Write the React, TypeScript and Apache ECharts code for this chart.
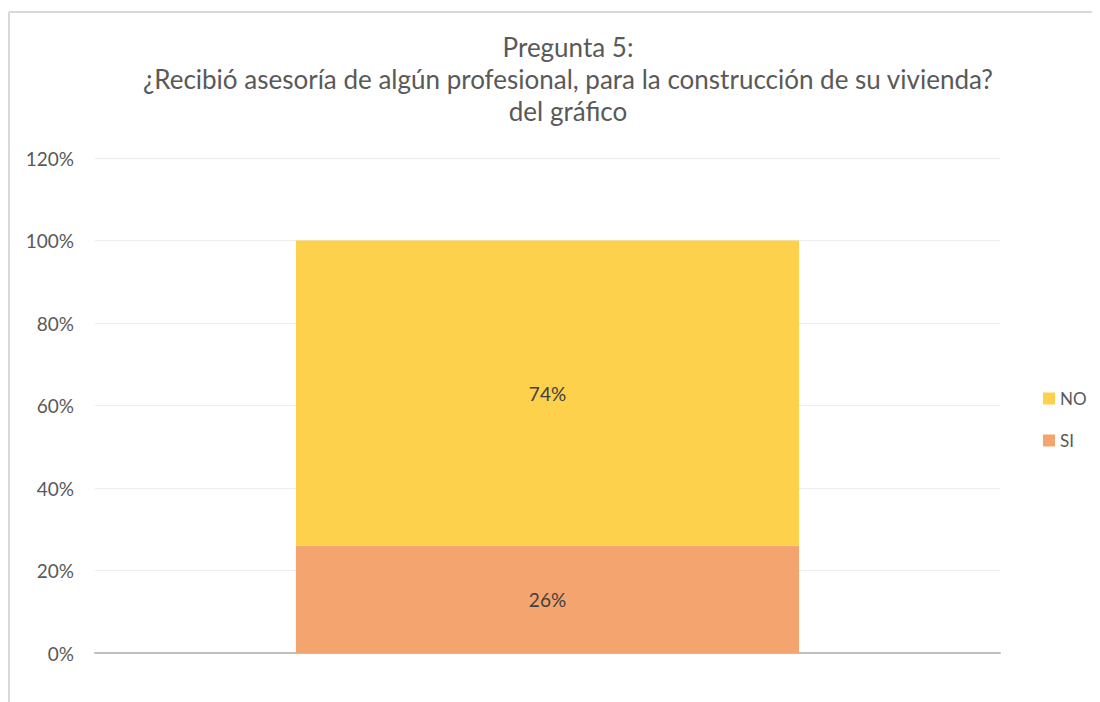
import React, { useEffect, useRef } from "react";
import * as echarts from "echarts";

const categories = ["Pregunta 5"];
const siValues = [0.26];
const noValues = [0.74];
const seriesNames = ["SI", "NO"];
const titleLines = [
  "Pregunta 5:",
  "¿Recibió asesoría de algún profesional, para la construcción de su vivienda?",
  "del gráfico",
];

export default function App() {
  const ref = useRef<HTMLDivElement>(null);
  useEffect(() => {
    if (!ref.current) return;
    const chart = echarts.init(ref.current, null, { renderer: "svg" });
    const font = "Lato, 'Open Sans', sans-serif";
    const labelFmt = (p: any) => Math.round(p.value * 100) + "%";
    chart.setOption({
      animation: false,
      textStyle: { fontFamily: font },
      title: {
        text: titleLines.join("\n"),
        left: 555,
        top: 18,
        textAlign: "center",
        textStyle: {
          fontFamily: font,
          fontSize: 26,
          fontWeight: "normal",
          color: "#595959",
          lineHeight: 32,
        },
      },
      graphic: [
        {
          type: "line",
          shape: { x1: 1, y1: 4, x2: 1100, y2: 4 },
          style: { stroke: "#d9d9d9", lineWidth: 2 },
          silent: true,
        },
        {
          type: "line",
          shape: { x1: 1, y1: 4, x2: 1, y2: 700 },
          style: { stroke: "#d9d9d9", lineWidth: 2 },
          silent: true,
        },
      ],
      legend: {
        orient: "vertical",
        left: 1030,
        top: 377,
        itemWidth: 12,
        itemHeight: 12,
        itemGap: 25,
        icon: "rect",
        data: ["NO", "SI"],
        textStyle: { fontFamily: font, fontSize: 17, color: "#595959" },
      },
      grid: { left: 87, right: 100, top: 150, bottom: 49 },
      xAxis: {
        type: "category",
        data: categories,
        axisLine: { lineStyle: { color: "#bfbfbf", width: 2 } },
        axisTick: { show: false },
        axisLabel: { show: false },
      },
      yAxis: {
        type: "value",
        min: 0,
        max: 1.2,
        interval: 0.2,
        axisLine: { show: false },
        axisTick: { show: false },
        splitLine: { lineStyle: { color: "#ececec", width: 1 } },
        axisLabel: {
          formatter: (v: number) => Math.round(v * 100) + "%",
          fontFamily: font,
          fontSize: 19,
          color: "#595959",
          margin: 21,
        },
      },
      series: [
        {
          name: seriesNames[0],
          type: "bar",
          stack: "total",
          data: siValues,
          barWidth: "55.6%",
          itemStyle: { color: "#f4a46e" },
          label: {
            show: true,
            position: "inside",
            formatter: labelFmt,
            fontFamily: font,
            fontSize: 19,
            color: "#404040",
          },
        },
        {
          name: seriesNames[1],
          type: "bar",
          stack: "total",
          data: noValues,
          barWidth: "55.6%",
          itemStyle: { color: "#fed14c" },
          label: {
            show: true,
            position: "inside",
            formatter: labelFmt,
            fontFamily: font,
            fontSize: 19,
            color: "#404040",
          },
        },
      ],
    });
    return () => chart.dispose();
  }, []);
  return <div ref={ref} style={{ width: 1092, height: 694 }} />;
}
